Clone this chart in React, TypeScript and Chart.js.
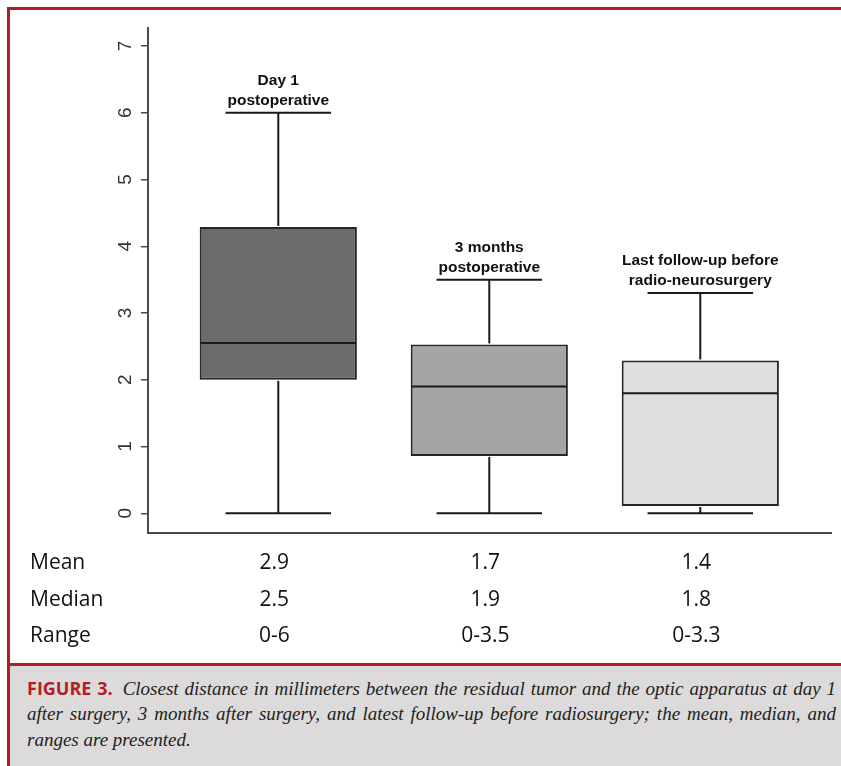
import React, { useEffect, useRef } from "react";
import { Chart, registerables } from "chart.js";

Chart.register(...registerables);

// ---- data ----
const groupLabels = [
  ["Day 1", "postoperative"],
  ["3 months", "postoperative"],
  ["Last follow-up before", "radio-neurosurgery"],
];
const whiskerLow = [0, 0, 0];
const q1 = [2.0, 0.86, 0.11];
const medians = [2.55, 1.9, 1.8];
const q3 = [4.29, 2.53, 2.29];
const whiskerHigh = [6, 3.5, 3.3];
const yTicks = [0, 1, 2, 3, 4, 5, 6, 7];
const rowLabels = ["Mean", "Median", "Range"];
const meanValues = ["2.9", "1.7", "1.4"];
const medianValues = ["2.5", "1.9", "1.8"];
const rangeValues = ["0-6", "0-3.5", "0-3.3"];

const boxColors = ["#6b6b6b", "#a5a5a5", "#dfdfdf"];

const boxExtras = {
  id: "boxExtras",
  afterDatasetsDraw(chart: any) {
    const { ctx, chartArea } = chart;
    const x = chart.scales.x;
    const y = chart.scales.y;
    const meta = chart.getDatasetMeta(0);
    ctx.save();
    ctx.strokeStyle = "#1a1a1a";
    ctx.lineWidth = 2;
    const line = (x1: number, y1: number, x2: number, y2: number) => {
      ctx.beginPath();
      ctx.moveTo(x1, y1);
      ctx.lineTo(x2, y2);
      ctx.stroke();
    };
    meta.data.forEach((bar: any, i: number) => {
      const cx = x.getPixelForValue(i + 1);
      const capHalf = x.getPixelForValue(i + 1.25) - cx;
      const yLo = y.getPixelForValue(whiskerLow[i]);
      const yHi = y.getPixelForValue(whiskerHigh[i]);
      const yQ1 = y.getPixelForValue(q1[i]);
      const yQ3 = y.getPixelForValue(q3[i]);
      const yMed = y.getPixelForValue(medians[i]);
      line(cx, yQ1 + 1, cx, yLo);
      line(cx - capHalf, yLo, cx + capHalf, yLo);
      line(cx, yQ3 - 1, cx, yHi);
      line(cx - capHalf, yHi, cx + capHalf, yHi);
      const { x: bx, width } = bar.getProps(["x", "width"], true);
      line(bx - width / 2 + 1, yMed, bx + width / 2 - 1, yMed);

      // group labels
      ctx.fillStyle = "#111";
      ctx.font = 'bold 15.5px "Liberation Sans", Arial, sans-serif';
      ctx.textAlign = "center";
      ctx.textBaseline = "alphabetic";
      const lines = groupLabels[i];
      lines.forEach((t: string, k: number) => {
        const yy = yHi - 8 - (lines.length - 1 - k) * 20;
        ctx.fillText(t, cx, yy);
      });
    });

    // y tick labels (rotated)
    ctx.fillStyle = "#333";
    ctx.font = '19px "Liberation Sans", Arial, sans-serif';
    ctx.textAlign = "center";
    ctx.textBaseline = "middle";
    yTicks.forEach((v) => {
      const py = y.getPixelForValue(v);
      ctx.save();
      ctx.translate(chartArea.left - 22, py);
      ctx.rotate(-Math.PI / 2);
      ctx.fillText(String(v), 0, 0);
      ctx.restore();
    });

    // summary table
    ctx.fillStyle = "#111";
    ctx.font = '21px "Open Sans", sans-serif';
    ctx.textBaseline = "alphabetic";
    const rows = [meanValues, medianValues, rangeValues];
    rows.forEach((vals, r) => {
      const ty = chartArea.bottom + 36 + r * 36.5;
      ctx.textAlign = "left";
      ctx.fillText(rowLabels[r], 30, ty);
      ctx.textAlign = "center";
      vals.forEach((v, i) => {
        ctx.fillText(v, x.getPixelForValue(i + 1) - 4, ty);
      });
    });
    ctx.restore();
  },
};

export default function App() {
  const ref = useRef<HTMLCanvasElement | null>(null);
  useEffect(() => {
    if (!ref.current) return;
    const chart = new Chart(ref.current, {
      type: "bar",
      data: {
        datasets: [
          {
            data: q1.map((lo, i) => ({ x: i + 1, y: [lo, q3[i]] })) as any,
            backgroundColor: boxColors,
            borderColor: "#262626",
            borderWidth: 2,
            borderSkipped: false,
            categoryPercentage: 1,
            barPercentage: 0.745,
          },
        ],
      },
      options: {
        responsive: false,
        animation: false,
        layout: { padding: { left: 141, right: 10, top: 28, bottom: 130 } },
        plugins: { legend: { display: false }, tooltip: { enabled: false } },
        scales: {
          x: {
            type: "linear",
            offset: false,
            min: 0.3825,
            max: 3.6195,
            afterBuildTicks: (s: any) => {
              s.ticks = groupLabels.map((_, i) => ({ value: i + 1 }));
            },
            ticks: { display: false },
            grid: { display: false, drawTicks: false, offset: false },
            border: { display: true, color: "#4a4a4a", width: 2 },
          },
          y: {
            min: -0.295,
            max: 7.27,
            afterBuildTicks: (s: any) => {
              s.ticks = yTicks.map((v) => ({ value: v }));
            },
            ticks: { display: false },
            grid: {
              display: true,
              drawOnChartArea: false,
              drawTicks: true,
              tickLength: 7,
              color: "#4a4a4a",
              lineWidth: 1.5,
            },
            border: { display: true, color: "#4a4a4a", width: 2 },
          },
        },
      },
      plugins: [boxExtras],
    });
    return () => chart.destroy();
  }, []);

  const red = "#b31e25";
  return (
    <div
      style={{
        position: "absolute",
        left: 0,
        top: 0,
        width: 841,
        height: 766,
        overflow: "hidden",
        background: "#fff",
      }}
    >
      <div
        style={{
          position: "absolute",
          left: 7,
          top: 7,
          width: 900,
          height: 800,
          borderTop: `3px solid ${red}`,
          borderLeft: `3px solid ${red}`,
        }}
      />
      <div
        style={{
          position: "absolute",
          left: 10,
          top: 663,
          width: 900,
          height: 110,
          borderTop: `3px solid ${red}`,
          background: "#dcdadb",
        }}
      />
      <canvas
        ref={ref}
        width={841}
        height={663}
        style={{ position: "absolute", left: 0, top: 0, display: "block" }}
      />
      <div
        style={{
          position: "absolute",
          left: 27,
          top: 675.6,
          width: 809,
          font: 'italic 19px "Liberation Serif", "Times New Roman", serif',
          lineHeight: "26px",
          color: "#231f20",
        }}
      >
        <div style={{ textAlign: "justify", textAlignLast: "justify", height: 25.5 } as any}>
          <span
            style={{
              fontFamily: '"Open Sans", sans-serif',
              fontStyle: "normal",
              fontWeight: 700,
              fontSize: 18,
              color: red,
              lineHeight: "20px",
              marginRight: 4,
            }}
          >
            FIGURE 3.
          </span>{" "}
          Closest distance in millimeters between the residual tumor and the optic apparatus at day 1
        </div>
        <div style={{ textAlign: "justify", textAlignLast: "justify", height: 25.5 } as any}>
          after surgery, 3 months after surgery, and latest follow-up before radiosurgery; the mean, median, and
        </div>
        <div style={{ height: 25.5 }}>ranges are presented.</div>
      </div>
    </div>
  );
}
